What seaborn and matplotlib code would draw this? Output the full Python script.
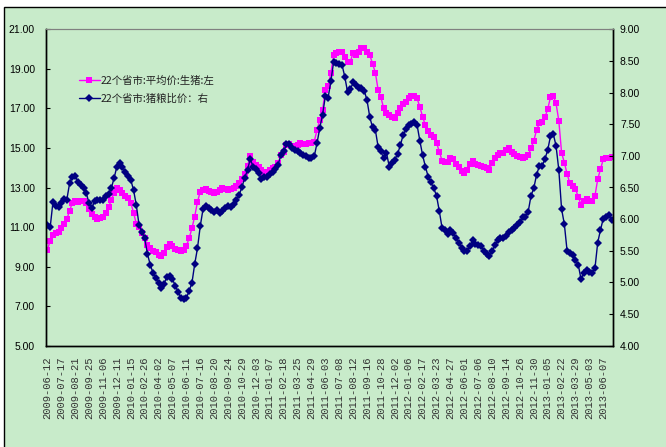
import matplotlib
matplotlib.use("Agg")
import matplotlib.pyplot as plt
import matplotlib.font_manager as fm
from matplotlib.patches import Rectangle
import numpy as np
import pandas as pd
import seaborn as sns

# Weekly national live-hog price (yuan/kg, left axis) and hog-to-grain price ratio (right axis)
price = [
    9.84, 10.31, 10.60, 10.68, 10.77, 10.94, 11.16, 11.40, 11.83, 12.23,
    12.33, 12.28, 12.30, 12.33, 12.20, 11.90, 11.66, 11.53, 11.41, 11.44,
    11.53, 11.70, 12.00, 12.37, 12.74, 12.96, 12.85, 12.71, 12.57, 12.45,
    12.23, 11.73, 11.16, 11.00, 10.70, 10.45, 10.10, 9.93, 9.81, 9.76,
    9.59, 9.55, 9.70, 10.00, 10.13, 10.05, 9.90, 9.82, 9.78, 9.86,
    10.05, 10.43, 10.94, 11.53, 12.28, 12.79, 12.88, 12.90, 12.82, 12.76,
    12.74, 12.76, 12.88, 12.96, 12.90, 12.85, 12.90, 12.98, 13.10, 13.21,
    13.42, 13.68, 14.09, 14.60, 14.31, 14.14, 14.05, 13.89, 13.75, 13.80,
    13.89, 14.00, 14.05, 14.22, 14.64, 14.81, 15.15, 15.20, 15.10, 15.06,
    15.15, 15.24, 15.20, 15.20, 15.24, 15.27, 15.32, 15.90, 16.41, 16.92,
    17.93, 18.15, 18.80, 19.70, 19.79, 19.87, 19.87, 19.58, 19.36, 19.36,
    19.82, 19.70, 19.87, 20.04, 20.04, 19.87, 19.70, 19.25, 18.81, 17.93,
    17.56, 17.00, 16.78, 16.67, 16.58, 16.50, 16.75, 17.00, 17.22, 17.34,
    17.51, 17.63, 17.63, 17.51, 17.08, 16.58, 16.14, 15.87, 15.66, 15.54,
    15.27, 14.81, 14.36, 14.31, 14.31, 14.48, 14.43, 14.19, 14.02, 13.84,
    13.72, 13.89, 14.19, 14.36, 14.19, 14.14, 14.09, 14.02, 13.97, 13.89,
    14.22, 14.48, 14.64, 14.73, 14.76, 14.90, 14.98, 14.81, 14.70, 14.60,
    14.53, 14.48, 14.53, 14.64, 14.98, 15.37, 15.90, 16.25, 16.33, 16.55,
    16.96, 17.56, 17.63, 17.26, 16.38, 14.76, 14.26, 13.68, 13.21, 13.08,
    12.91, 12.54, 12.12, 12.33, 12.40, 12.33, 12.33, 12.57, 13.42, 13.92,
    14.43, 14.48, 14.48, 14.53,
]

ratio = [
    5.90, 5.87, 6.27, 6.21, 6.19, 6.26, 6.32, 6.31, 6.57, 6.67,
    6.68, 6.59, 6.54, 6.49, 6.41, 6.25, 6.17, 6.29, 6.30, 6.30,
    6.31, 6.36, 6.40, 6.49, 6.65, 6.83, 6.88, 6.83, 6.75, 6.68,
    6.62, 6.46, 6.22, 5.90, 5.80, 5.70, 5.45, 5.28, 5.15, 5.07,
    4.99, 4.91, 4.98, 5.09, 5.10, 5.05, 4.95, 4.85, 4.76, 4.74,
    4.75, 4.87, 4.99, 5.29, 5.54, 5.89, 6.16, 6.21, 6.17, 6.15,
    6.12, 6.15, 6.09, 6.13, 6.17, 6.21, 6.19, 6.24, 6.30, 6.38,
    6.51, 6.65, 6.78, 6.95, 6.83, 6.79, 6.73, 6.63, 6.67, 6.67,
    6.71, 6.75, 6.79, 6.86, 7.01, 7.07, 7.18, 7.18, 7.12, 7.09,
    7.07, 7.04, 7.01, 6.99, 6.97, 6.96, 6.99, 7.20, 7.44, 7.65,
    7.94, 7.92, 8.18, 8.49, 8.46, 8.45, 8.44, 8.25, 8.01, 8.05,
    8.16, 8.12, 8.08, 8.08, 8.03, 7.88, 7.61, 7.45, 7.41, 7.14,
    7.07, 6.96, 7.05, 6.83, 6.88, 6.94, 7.03, 7.17, 7.33, 7.42,
    7.49, 7.50, 7.54, 7.49, 7.24, 7.01, 6.83, 6.67, 6.58, 6.49,
    6.37, 6.13, 5.86, 5.83, 5.77, 5.83, 5.78, 5.70, 5.63, 5.54,
    5.49, 5.50, 5.57, 5.67, 5.61, 5.59, 5.57, 5.50, 5.45, 5.41,
    5.49, 5.59, 5.67, 5.70, 5.70, 5.73, 5.80, 5.83, 5.86, 5.91,
    5.96, 6.04, 6.04, 6.12, 6.37, 6.49, 6.70, 6.84, 6.84, 6.95,
    7.09, 7.31, 7.35, 7.16, 6.78, 6.16, 5.92, 5.49, 5.47, 5.43,
    5.36, 5.28, 5.05, 5.15, 5.20, 5.16, 5.15, 5.22, 5.63, 5.83,
    6.01, 6.04, 6.07, 5.98,
]

# Dates shown on the category axis (every fifth observation)
tick_dates = [
    "2009-06-12", "2009-07-17", "2009-08-21", "2009-09-25", "2009-11-06",
    "2009-12-11", "2010-01-15", "2010-02-26", "2010-04-02", "2010-05-07",
    "2010-06-11", "2010-07-16", "2010-08-20", "2010-09-24", "2010-10-29",
    "2010-12-03", "2011-01-07", "2011-02-18", "2011-03-25", "2011-04-29",
    "2011-06-03", "2011-07-08", "2011-08-12", "2011-09-16", "2011-10-28",
    "2011-12-02", "2012-01-06", "2012-02-17", "2012-03-23", "2012-04-27",
    "2012-06-01", "2012-07-06", "2012-08-10", "2012-09-14", "2012-10-26",
    "2012-11-30", "2013-01-05", "2013-02-22", "2013-03-29", "2013-05-03",
    "2013-06-07",
]
tick_step = 5

label_price = "22个省市:平均价:生猪:左"
label_ratio = "22个省市:猪粮比价：右"

left_ticks = [5, 7, 9, 11, 13, 15, 17, 19, 21]
right_ticks = [4.0, 4.5, 5.0, 5.5, 6.0, 6.5, 7.0, 7.5, 8.0, 8.5, 9.0]

sns.set_style("white")
names = {f.name for f in fm.fontManager.ttflist}
num_font = "Liberation Sans Narrow" if "Liberation Sans Narrow" in names else "Liberation Sans"
plt.rcParams["font.family"] = ["Noto Sans CJK SC", "DejaVu Sans"]

BG = "#C8EBCA"
W, H = 666, 447
fig = plt.figure(figsize=(W / 100, H / 100), dpi=100, facecolor="white")

# chart-area frame behind the axes
fig.patches.append(Rectangle((4 / W, -0.02), 1.0, (H - 7) / H + 0.02,
                             transform=fig.transFigure, facecolor=BG,
                             edgecolor="black", linewidth=1.0, zorder=-5))

left, right, top, bottom = 46, 613, 29.3, 345.7
ax = fig.add_axes([left / W, 1 - bottom / H, (right - left) / W, (bottom - top) / H])
ax.set_facecolor("none")

df = pd.DataFrame({"idx": np.arange(len(price)), "price": price, "ratio": ratio})

sns.lineplot(data=df, x="idx", y="price", ax=ax, color="#FF00FF", linewidth=1.0,
             marker="s", markersize=4.2, markeredgewidth=0, markerfacecolor="#FF00FF",
             label=label_price)
ax2 = ax.twinx()
ax2.set_facecolor("none")
sns.lineplot(data=df, x="idx", y="ratio", ax=ax2, color="#000080", linewidth=1.0,
             marker="D", markersize=4.0, markeredgewidth=0, markerfacecolor="#000080",
             label=label_ratio)

n = len(price)
ax.set_xlim(-0.5, n - 0.5)
ax.set_ylim(5, 21)
ax2.set_ylim(4, 9)

ax.set_yticks(left_ticks)
ax.set_yticklabels([f"{v:.2f}" for v in left_ticks], fontfamily=num_font, fontsize=7.5)
ax2.set_yticks(right_ticks)
ax2.set_yticklabels([f"{v:.2f}" for v in right_ticks], fontfamily=num_font, fontsize=7.5)

ax.set_xticks(list(range(0, n, tick_step))[:len(tick_dates)])
ax.set_xticklabels(tick_dates, rotation=90, fontfamily="Liberation Mono", fontsize=7.6,
                   color="#333333")
ax.set_xlabel("")
ax.set_ylabel("")
ax2.set_ylabel("")

ax.tick_params(axis="x", length=0, pad=8)
ax.tick_params(axis="y", direction="in", length=3, width=0.8, pad=8, colors="black")
ax2.tick_params(axis="y", direction="in", length=3, width=0.8, pad=5, colors="black")

for a in (ax, ax2):
    for side in ("left", "right", "bottom"):
        a.spines[side].set_color("black")
        a.spines[side].set_linewidth(1.0)
        a.spines[side].set_visible(True)
    a.spines["top"].set_color("#808080")
    a.spines["top"].set_linewidth(0.8)
    a.grid(False)

h1 = ax.get_lines()[0]
h2 = ax2.get_lines()[0]
if ax.get_legend() is not None:
    ax.get_legend().remove()
if ax2.get_legend() is not None:
    ax2.get_legend().remove()
leg = ax2.legend([h1, h2], [label_price, label_ratio], loc="upper left",
                 bbox_to_anchor=(0.058, 0.853), frameon=False, fontsize=7.5,
                 handlelength=2.0, handletextpad=0.1, labelspacing=0.68,
                 borderpad=0, borderaxespad=0, numpoints=1)
for t in leg.get_texts():
    t.set_color("#222222")

fig.savefig("out.png", dpi=100, facecolor=fig.get_facecolor())
